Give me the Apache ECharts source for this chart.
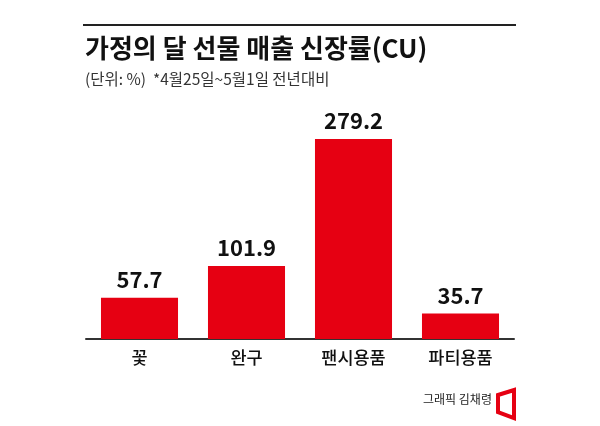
<!DOCTYPE html>
<html><head><meta charset="utf-8">
<script src="https://cdn.jsdelivr.net/npm/echarts@6/dist/echarts.min.js"></script>
<style>html,body{margin:0;padding:0;background:#fff}#c{width:600px;height:426px}</style>
</head><body><div id="c"></div>
<script>
const categories = ['꽃', '완구', '팬시용품', '파티용품'];
const values = [57.7, 101.9, 279.2, 35.7];
const titleText = '가정의 달 선물 매출 신장률(CU)';
const subtitleText = '(단위: %)  *4월25일~5월1일 전년대비';
const creditText = '그래픽 김채령';

const F = '"Noto Sans CJK KR", "Noto Sans", sans-serif';
const chart = echarts.init(document.getElementById('c'));
chart.setOption({
  backgroundColor: '#fff',
  animation: false,
  title: {
    text: titleText,
    subtext: subtitleText,
    left: 80, top: 30,
    itemGap: 10,
    textStyle: { fontFamily: F, fontSize: 26, fontWeight: 'bold', color: '#111' },
    subtextStyle: { fontFamily: F, fontSize: 15.5, color: '#333' }
  },
  grid: { left: 86, right: 86, top: 139, bottom: 87 },
  xAxis: {
    type: 'category',
    data: categories,
    axisLine: { lineStyle: { color: '#333', width: 2 } },
    axisTick: { show: false },
    axisLabel: { fontFamily: F, fontSize: 17.5, fontWeight: 500, color: '#111', margin: 10 }
  },
  yAxis: { type: 'value', min: 0, max: 279.2, show: false, splitLine: { show: false } },
  series: [{
    type: 'bar',
    data: values,
    barCategoryGap: '28%',
    itemStyle: { color: '#e60012' },
    label: {
      show: true, position: 'top', distance: 7,
      fontFamily: F, fontSize: 22, fontWeight: 'bold', color: '#111',
      formatter: p => p.value.toFixed(1)
    }
  }],
  graphic: [
    { type: 'line', shape: { x1: 83, y1: 25, x2: 516, y2: 25 }, style: { stroke: '#222', lineWidth: 2 } },
    { type: 'text', left: 423, top: 393, style: { text: creditText, font: '12px ' + F, fill: '#222' } },
    { type: 'polygon', shape: { points: [[498, 395], [514, 390], [514, 418], [498, 412]] },
      style: { fill: '#fff', stroke: '#e60012', lineWidth: 4, lineJoin: 'miter' } }
  ]
});
</script></body></html>
